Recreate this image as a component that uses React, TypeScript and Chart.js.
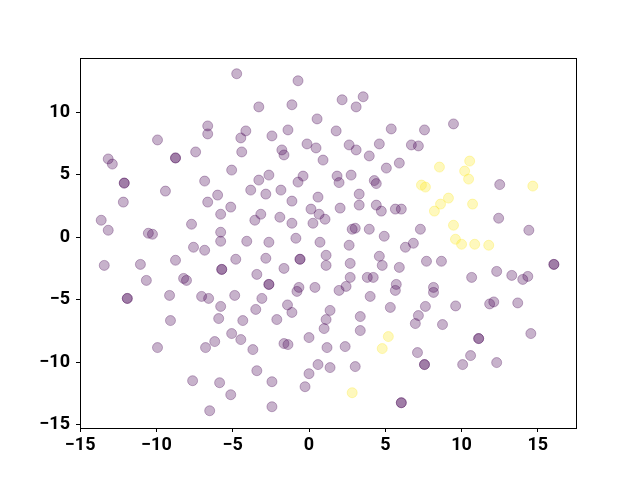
import React, { useEffect, useRef } from "react";
import { Chart, registerables } from "chart.js";

Chart.register(...registerables);

// cluster 0 (dark purple, viridis low end); repeated entries are coincident points
const clusterA: number[][] = [
  [-9.93, 7.78], [-13.16, 6.26], [-12.89, 5.85], [-8.75, 6.34], [-8.75, 6.34], [-7.43, 6.82],
  [-12.11, 4.33], [-12.11, 4.33], [-6.64, 8.9], [-6.64, 8.26], [-6.84, 4.49],
  [-4.74, 13.07], [-0.72, 12.51], [-3.29, 10.42], [-1.12, 10.59], [0.53, 9.46], [-4.14, 8.5],
  [-4.47, 7.94], [-2.43, 8.1], [-1.38, 8.58], [-4.41, 6.82], [-1.78, 6.98], [-1.64, 6.58],
  [-0.13, 7.46], [0.46, 7.14], [0.92, 6.17], [-5.07, 5.37], [-2.63, 4.97], [-3.29, 4.57],
  [-0.39, 4.89], [-0.72, 4.41],
  [2.17, 10.99], [3.55, 11.23], [3.09, 10.42], [1.78, 8.5], [5.39, 8.66], [7.57, 8.58],
  [9.47, 9.06], [2.63, 7.38], [3.09, 6.98], [4.61, 7.46], [3.95, 6.5], [6.71, 7.38], [7.17, 7.3],
  [5.07, 5.53], [5.92, 5.93], [1.84, 4.89], [2.76, 4.97], [4.28, 4.53], [4.41, 4.29], [1.97, 4.37],
  [12.5, 4.21], [12.43, 1.52], [14.41, 0.56], [16.05, -2.17], [16.05, -2.17], [12.3, -2.73],
  [10.66, -3.21], [13.29, -3.05], [14.01, -3.37], [14.34, -3.13], [9.61, -5.49], [11.84, -5.33],
  [12.11, -5.17], [13.68, -5.25],
  [3.29, 3.45], [2.04, 2.33], [3.29, 2.57], [4.41, 2.57], [4.74, 2.09], [5.66, 2.25], [6.05, 2.25],
  [1.05, 1.44], [2.83, 0.64], [3.03, 0.72], [3.95, 0.64], [4.93, 0.08], [7.3, 0.64], [6.84, -0.48],
  [6.32, -0.8], [2.63, -0.64], [1.12, -1.44], [1.12, -2.25], [4.61, -1.52], [4.8, -2.25],
  [2.7, -2.09], [5.92, -2.41], [7.7, -1.92], [8.68, -1.92], [2.7, -3.21], [3.82, -3.21],
  [4.21, -3.21], [5.72, -3.77], [5.66, -4.25], [2.43, -3.93], [1.97, -4.25], [8.16, -4.01],
  [8.16, -4.41], [4.01, -4.73],
  [-3.82, 3.77], [-1.84, 3.77], [-2.83, 3.45], [-5.99, 3.37], [-6.64, 2.81], [-5.13, 2.41],
  [0.59, 3.21], [-1.12, 2.89], [0.13, 2.25], [0.66, 1.84], [0.26, 1.12], [-5.79, 1.84],
  [-3.16, 1.84], [-3.55, 1.36], [-1.91, 1.6], [-1.12, 1.12], [-5.79, 0.4], [-5.79, -0.32],
  [-4.08, -0.32], [-2.63, -0.4], [-0.86, -0.08], [0.72, -0.4], [-6.84, -1.04], [-4.8, -1.76],
  [-2.83, -1.68], [-0.59, -1.76], [-0.59, -1.76], [-5.72, -2.57], [-5.72, -2.57], [-1.64, -2.49],
  [-3.42, -2.97], [-2.63, -3.77], [-2.63, -3.77], [-0.66, -4.01], [-0.79, -4.33], [0.39, -4.01],
  [-7.04, -4.73], [-6.58, -4.89], [-4.87, -4.65], [-3.09, -4.89], [-5.79, -5.53], [-3.49, -5.77],
  [-1.41, -5.41],
  [-9.41, 3.69], [-12.17, 2.81], [-13.62, 1.36], [-13.16, 0.56], [-7.7, 1.04], [-10.53, 0.32],
  [-10.26, 0.24], [-7.57, -0.8], [-13.42, -2.25], [-11.05, -2.17], [-8.75, -1.84], [-10.66, -3.45],
  [-8.22, -3.29], [-8.03, -3.45], [-11.91, -4.89], [-11.91, -4.89], [-9.14, -4.65],
  [-9.08, -6.66], [-9.93, -8.82], [-6.78, -8.82], [-7.63, -11.47], [-6.51, -13.87],
  [-1.12, -6.01], [-5.92, -6.5], [-2.11, -6.58], [-4.34, -6.66], [-5.07, -7.7], [-4.47, -8.18],
  [-6.18, -8.34], [-3.68, -8.98], [-1.64, -8.5], [-1.38, -8.58], [0, -8.02], [1.12, -6.58],
  [0.99, -7.3], [1.18, -8.82], [0.59, -10.18], [0, -10.91], [-0.26, -11.95], [1.38, -10.42],
  [-3.42, -10.67], [-5.86, -11.63], [-2.43, -11.55], [-5.13, -12.59], [-2.43, -13.55],
  [1.38, -5.85], [5.33, -5.61], [7.63, -5.53], [7.17, -6.26], [3.36, -6.34], [3.36, -7.46],
  [6.97, -6.9], [8.75, -6.98], [2.37, -8.74], [3.03, -10.34], [7.11, -9.22], [7.57, -10.18],
  [7.57, -10.18], [6.05, -13.23], [6.05, -13.23],
  [14.54, -7.7], [11.12, -8.1], [11.12, -8.1], [10.59, -9.46], [10.07, -10.18], [12.3, -10.02],
];

// cluster 1 (yellow, viridis high end)
const clusterB: number[][] = [
  [8.55, 5.61], [10.53, 6.09], [10.2, 5.29], [10.46, 4.65], [7.37, 4.17], [7.63, 4.01],
  [14.67, 4.09], [9.14, 3.13], [8.62, 2.65], [8.22, 2.09], [10.72, 2.65], [9.47, 0.96],
  [9.6, -0.16], [10.0, -0.56], [10.86, -0.56], [11.78, -0.64], [5.2, -7.94], [4.8, -8.9],
  [2.83, -12.43],
];

const xTicks = [-15, -10, -5, 0, 5, 10, 15];
const yTicks = [-15, -10, -5, 0, 5, 10];
const xRange = [-15.01, 17.5];
const yRange = [-15.25, 14.33];

const fmt = (v: number | string) => String(v).replace("-", "\u2212");

export default function App() {
  const ref = useRef<HTMLCanvasElement | null>(null);

  useEffect(() => {
    if (!ref.current) return;
    const frame = {
      id: "frame",
      afterDraw(chart: any) {
        const { ctx, chartArea: a } = chart;
        ctx.save();
        ctx.strokeStyle = "#000";
        ctx.lineWidth = 1;
        ctx.strokeRect(Math.round(a.left) + 0.5, Math.round(a.top) + 0.5, Math.round(a.right - a.left), Math.round(a.bottom - a.top));
        ctx.restore();
      },
    };
    const tickFont = { family: "Roboto, sans-serif", size: 18, weight: "bold" as const };
    const chart = new Chart(ref.current, {
      type: "scatter",
      data: {
        datasets: [
          {
            label: "0",
            data: clusterA.map(([x, y]) => ({ x, y })),
            backgroundColor: "rgba(68,1,84,0.3)",
            borderColor: "rgba(68,1,84,0.3)",
            borderWidth: 1,
            pointRadius: 5,
          },
          {
            label: "1",
            data: clusterB.map(([x, y]) => ({ x, y })),
            backgroundColor: "rgba(253,231,37,0.3)",
            borderColor: "rgba(253,231,37,0.3)",
            borderWidth: 1,
            pointRadius: 5,
          },
        ],
      },
      options: {
        responsive: false,
        animation: false,
        devicePixelRatio: 1,
        layout: { padding: { top: 58, right: 64, left: 0, bottom: 0 } },
        plugins: { legend: { display: false }, tooltip: { enabled: false } },
        scales: {
          x: {
            type: "linear",
            min: xRange[0],
            max: xRange[1],
            afterBuildTicks: (s: any) => { s.ticks = xTicks.map((v) => ({ value: v })); },
            afterFit: (s: any) => { s.height = 52; },
            grid: { display: true, drawOnChartArea: false, drawTicks: true, tickLength: 4, tickColor: "#000", color: "#000" },
            border: { display: false },
            ticks: { color: "#000", font: tickFont, padding: 3, maxRotation: 0, autoSkip: false, callback: (v: any) => fmt(v) },
          },
          y: {
            type: "linear",
            min: yRange[0],
            max: yRange[1],
            afterBuildTicks: (s: any) => { s.ticks = yTicks.map((v) => ({ value: v })); },
            afterFit: (s: any) => { s.width = 80; },
            grid: { display: true, drawOnChartArea: false, drawTicks: true, tickLength: 4, tickColor: "#000", color: "#000" },
            border: { display: false },
            ticks: { color: "#000", font: tickFont, padding: 6, autoSkip: false, callback: (v: any) => fmt(v) },
          },
        },
      },
      plugins: [frame],
    });
    return () => chart.destroy();
  }, []);

  return (
    <div style={{ position: "fixed", left: 0, top: 0, width: 640, height: 480, background: "#fff" }}>
      <canvas ref={ref} width={640} height={480} />
    </div>
  );
}
